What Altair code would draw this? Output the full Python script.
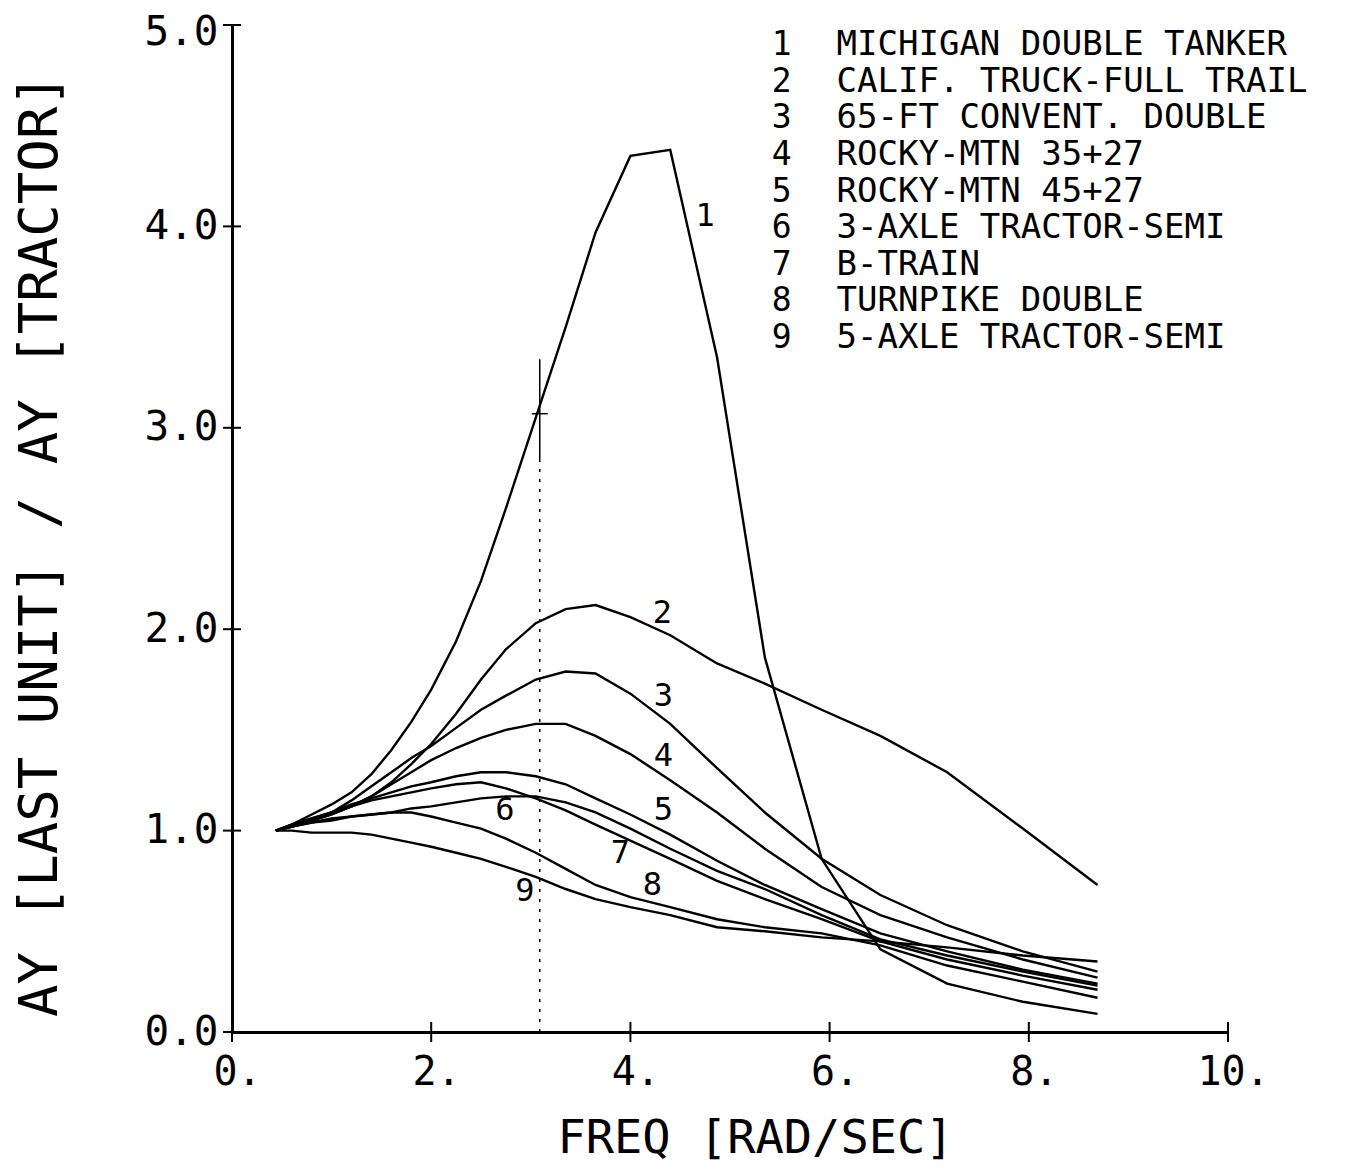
import altair as alt
import pandas as pd

# ---------------- data ----------------
freq = [0.44, 0.6, 0.8, 1.0, 1.2, 1.4, 1.6, 1.8, 2.0, 2.25, 2.5, 2.75, 3.05,
        3.35, 3.65, 4.0, 4.4, 4.87, 5.35, 5.92, 6.51, 7.18, 7.94, 8.69]

c1_michigan = [1.00, 1.03, 1.08, 1.13, 1.19, 1.28, 1.40, 1.54, 1.70, 1.94, 2.24, 2.60, 3.05,
               3.50, 3.97, 4.35, 4.38, 3.35, 1.86, 0.86, 0.41, 0.24, 0.15, 0.09]
c2_calif = [1.00, 1.02, 1.05, 1.08, 1.12, 1.17, 1.24, 1.33, 1.43, 1.58, 1.75, 1.90, 2.03,
            2.10, 2.12, 2.06, 1.97, 1.83, 1.73, 1.60, 1.47, 1.29, 1.01, 0.73]
c3_65ft = [1.00, 1.02, 1.05, 1.09, 1.15, 1.22, 1.29, 1.36, 1.42, 1.51, 1.60, 1.67, 1.75,
           1.79, 1.78, 1.68, 1.53, 1.31, 1.09, 0.86, 0.68, 0.53, 0.40, 0.30]
c4_rocky35 = [1.00, 1.02, 1.05, 1.08, 1.12, 1.17, 1.23, 1.29, 1.35, 1.41, 1.46, 1.50, 1.53,
              1.53, 1.47, 1.38, 1.25, 1.09, 0.91, 0.72, 0.58, 0.47, 0.36, 0.27]
c5_rocky45 = [1.00, 1.03, 1.06, 1.09, 1.13, 1.16, 1.19, 1.22, 1.24, 1.27, 1.29, 1.29, 1.27,
              1.23, 1.16, 1.08, 0.98, 0.85, 0.73, 0.61, 0.49, 0.40, 0.31, 0.24]
c6_3axle = [1.00, 1.02, 1.04, 1.05, 1.07, 1.08, 1.09, 1.11, 1.12, 1.14, 1.16, 1.17, 1.17,
            1.14, 1.09, 1.01, 0.91, 0.80, 0.71, 0.58, 0.46, 0.38, 0.30, 0.23]
c7_btrain = [1.00, 1.03, 1.06, 1.09, 1.12, 1.15, 1.17, 1.19, 1.21, 1.23, 1.24, 1.21, 1.16,
             1.10, 1.03, 0.95, 0.86, 0.75, 0.66, 0.56, 0.45, 0.36, 0.28, 0.21]
c8_turnpike = [1.00, 1.02, 1.04, 1.06, 1.07, 1.08, 1.09, 1.09, 1.07, 1.04, 1.01, 0.96, 0.89,
               0.81, 0.73, 0.67, 0.62, 0.56, 0.52, 0.49, 0.43, 0.33, 0.25, 0.17]
c9_5axle = [1.00, 1.00, 0.99, 0.99, 0.99, 0.98, 0.96, 0.94, 0.92, 0.89, 0.86, 0.82, 0.77,
            0.71, 0.66, 0.62, 0.58, 0.52, 0.50, 0.47, 0.45, 0.42, 0.38, 0.35]

curve_ids = ["1", "2", "3", "4", "5", "6", "7", "8", "9"]
curve_values = [c1_michigan, c2_calif, c3_65ft, c4_rocky35, c5_rocky45,
                c6_3axle, c7_btrain, c8_turnpike, c9_5axle]

legend_names = ["MICHIGAN DOUBLE TANKER", "CALIF. TRUCK-FULL TRAIL",
                "65-FT CONVENT. DOUBLE", "ROCKY-MTN 35+27", "ROCKY-MTN 45+27",
                "3-AXLE TRACTOR-SEMI", "B-TRAIN", "TURNPIKE DOUBLE",
                "5-AXLE TRACTOR-SEMI"]

# curve number labels placed next to the curves (data coords)
label_x = [4.75, 4.32, 4.33, 4.33, 4.33, 2.74, 3.90, 4.22, 2.94]
label_y = [4.05, 2.08, 1.67, 1.37, 1.10, 1.10, 0.89, 0.73, 0.70]

x_ticks = [0, 2, 4, 6, 8, 10]
y_ticks = [0, 1, 2, 3, 4, 5]

# vertical reference marker
marker_freq = 3.09
marker_ratio = 3.07

# legend block layout (data coordinates)
legend_num_x = 5.52
legend_name_x = 6.07
legend_top = 4.90
legend_step = 0.1817

FONT = "DejaVu Sans Mono"

rows = []
for cid, vals in zip(curve_ids, curve_values):
    for f, v in zip(freq, vals):
        rows.append({"curve": cid, "freq": f, "ratio": v})
df = pd.DataFrame(rows)

xs = alt.Scale(domain=[0, 10], nice=False, zero=False)
ys = alt.Scale(domain=[0, 5], nice=False, zero=False)

x_axis = alt.Axis(values=x_ticks, labelExpr="datum.value + '.'",
                  title="FREQ [RAD/SEC]", labelAlign="center",
                  labelOffset=5, labelPadding=20, labelFontSize=40,
                  titleFontSize=47, titleX=523, titleY=106,
                  titleAlign="center", titleBaseline="middle")
y_axis = alt.Axis(values=y_ticks, format=".1f",
                  title="AY [LAST UNIT] / AY [TRACTOR]",
                  labelPadding=14, labelFontSize=41, labelBaseline="middle",
                  labelOffset={"condition": {"test": "datum.value == 5", "value": 7}, "value": 0},
                  titleFontSize=54, titleX=-192, titleY=520,
                  titleAlign="center", titleBaseline="middle")


def X(field):
    return alt.X(field, scale=xs, axis=x_axis)


def Y(field):
    return alt.Y(field, scale=ys, axis=y_axis)


lines = alt.Chart(df).mark_line(color="black", strokeWidth=2.4).encode(
    x=X("freq:Q"), y=Y("ratio:Q"), detail="curve:N")

ytick_df = pd.DataFrame({"v": y_ticks, "a": [-0.09] * len(y_ticks), "b": [0.09] * len(y_ticks)})
ytk = alt.Chart(ytick_df).mark_rule(color="black", strokeWidth=2).encode(
    x=X("a:Q"), x2="b:Q", y=Y("v:Q"))

xtick_df = pd.DataFrame({"v": x_ticks, "a": [-0.05] * len(x_ticks), "b": [0.05] * len(x_ticks)})
xtk = alt.Chart(xtick_df).mark_rule(color="black", strokeWidth=2).encode(
    x=X("v:Q"), y=Y("a:Q"), y2="b:Q")

mark_df = pd.DataFrame({"f": [marker_freq], "lo": [0.0], "mid": [marker_ratio - 0.24],
                        "hi": [marker_ratio + 0.27], "r": [marker_ratio],
                        "fl": [marker_freq - 0.08], "fh": [marker_freq + 0.08]})
dashed = alt.Chart(mark_df).mark_rule(color="black", strokeWidth=1.5, strokeDash=[3, 7]).encode(
    x=X("f:Q"), y=Y("lo:Q"), y2="mid:Q")
vbar = alt.Chart(mark_df).mark_rule(color="black", strokeWidth=1.5).encode(
    x=X("f:Q"), y=Y("mid:Q"), y2="hi:Q")
hbar = alt.Chart(mark_df).mark_rule(color="black", strokeWidth=1.5).encode(
    x=X("fl:Q"), x2="fh:Q", y=Y("r:Q"))

lab_df = pd.DataFrame({"x": label_x, "y": label_y, "t": curve_ids})
labels = alt.Chart(lab_df).mark_text(font=FONT, fontSize=32, color="black").encode(
    x=X("x:Q"), y=Y("y:Q"), text="t:N")

leg_df = pd.DataFrame({
    "num": curve_ids,
    "name": legend_names,
    "nx": [legend_num_x] * len(curve_ids),
    "tx": [legend_name_x] * len(curve_ids),
    "ty": [legend_top - i * legend_step for i in range(len(curve_ids))],
})
leg_nums = alt.Chart(leg_df).mark_text(font=FONT, fontSize=33, color="black",
                                       align="center", baseline="middle").encode(
    x=X("nx:Q"), y=Y("ty:Q"), text="num:N")
leg_names = alt.Chart(leg_df).mark_text(font=FONT, fontSize=34, color="black",
                                        align="left", baseline="middle").encode(
    x=X("tx:Q"), y=Y("ty:Q"), text="name:N")

chart = alt.layer(lines, ytk, xtk, dashed, vbar, hbar, labels, leg_nums, leg_names).properties(
    width=996, height=1007,
    autosize=alt.AutoSizeParams(type="none"),
    padding={"left": 224, "top": 17, "right": 110, "bottom": 130},
    background="white",
).configure_view(stroke=None).configure_axis(
    grid=False, ticks=False, domainColor="black", domainWidth=3,
    labelFont=FONT, titleFont=FONT, labelColor="black", titleColor="black",
    titleFontWeight="normal",
)

chart.save("out.html", embed_options={"renderer": "svg", "actions": False})
